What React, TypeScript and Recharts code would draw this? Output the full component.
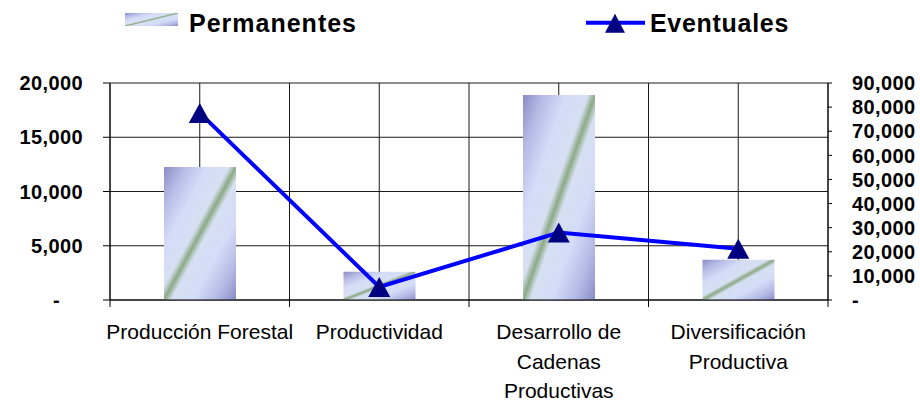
import React from 'react';
import {
  ComposedChart,
  Bar,
  Line,
  XAxis,
  YAxis,
  CartesianGrid,
} from 'recharts';

// categorías y series
const categories = [
  'Producción Forestal',
  'Productividad',
  'Desarrollo de\nCadenas\nProductivas',
  'Diversificación\nProductiva',
];
const permanentes = [12250, 2600, 18900, 3700];
const eventuales = [77600, 5400, 28000, 21300];

const leftTicks = [0, 5000, 10000, 15000, 20000];
const rightTicks = [0, 10000, 20000, 30000, 40000, 50000, 60000, 70000, 80000, 90000];
const xTicks = [0, 0.5, 1, 1.5, 2, 2.5, 3, 3.5, 4];

const FONT = '"Liberation Sans", Arial, sans-serif';
const NAVY = '#000080';
const BLUE = '#0000FF';

const data = categories.map((name, i) => ({
  pos: i + 0.5,
  name,
  permanentes: permanentes[i],
  eventuales: eventuales[i],
}));

const fmt = (v: number) => (v === 0 ? '-' : v.toLocaleString('en-US'));

function Triangle({ cx, cy, w = 22, h = 20 }: { cx: number; cy: number; w?: number; h?: number }) {
  return (
    <path
      d={`M${cx},${cy - h / 2} L${cx + w / 2},${cy + h / 2} L${cx - w / 2},${cy + h / 2} Z`}
      fill={NAVY}
    />
  );
}

// etiqueta del eje X: líneas en las fronteras, texto en los centros
function XTick(props: any) {
  const { x, y, payload } = props;
  const v = payload.value as number;
  if (Number.isInteger(v)) {
    return <line x1={x} x2={x} y1={y} y2={y + 7} stroke="#000" />;
  }
  const label = categories[Math.floor(v)] ?? '';
  const lines = label.split('\n');
  return (
    <text x={x} y={y + 39} textAnchor="middle" fontFamily={FONT} fontSize={21} fill="#000">
      {lines.map((l, i) => (
        <tspan key={i} x={x} dy={i === 0 ? 0 : 29.5}>
          {l}
        </tspan>
      ))}
    </text>
  );
}

function LeftTick(props: any) {
  const { x, y, payload } = props;
  const v = payload.value as number;
  return (
    <text
      x={v === 0 ? x - 23 : x}
      y={y}
      dy="0.36em"
      textAnchor="end"
      fontFamily={FONT}
      fontSize={20}
      fontWeight="bold"
      letterSpacing={0.4}
      fill="#000"
    >
      {fmt(v)}
    </text>
  );
}

function RightTick(props: any) {
  const { x, y, payload } = props;
  return (
    <text
      x={x}
      y={y}
      dy="0.36em"
      textAnchor="start"
      fontFamily={FONT}
      fontSize={20}
      fontWeight="bold"
      letterSpacing={0.4}
      fill="#000"
    >
      {fmt(payload.value)}
    </text>
  );
}

export default function App() {
  return (
    <div
      style={{
        position: 'absolute',
        left: 0,
        top: 0,
        width: 920,
        height: 403,
        background: '#fff',
        fontFamily: FONT,
      }}
    >
      {/* gradiente de las barras + leyenda */}
      <svg
        width={920}
        height={50}
        style={{ position: 'absolute', left: 0, top: 0, zIndex: 2 }}
      >
        <defs>
          <linearGradient id="barGrad" x1="0" y1="0" x2="1" y2="1">
            <stop offset="0" stopColor="#8A8CC6" />
            <stop offset="0.14" stopColor="#B4BAE4" />
            <stop offset="0.3" stopColor="#D4DCF8" />
            <stop offset="0.45" stopColor="#D6E0F2" />
            <stop offset="0.5" stopColor="#8CA986" />
            <stop offset="0.55" stopColor="#D6E0F2" />
            <stop offset="0.7" stopColor="#D4DCF8" />
            <stop offset="0.86" stopColor="#B4BAE4" />
            <stop offset="1" stopColor="#8A8CC6" />
          </linearGradient>
        </defs>
        <rect x={125} y={13} width={53} height={13} fill="url(#barGrad)" />
        <text x={189} y={31.5} fontFamily={FONT} fontSize={25} fontWeight="bold" letterSpacing={1}>
          Permanentes
        </text>
        <line x1={586} x2={645} y1={22.7} y2={22.7} stroke={BLUE} strokeWidth={4} />
        <Triangle cx={615} cy={23.3} w={20} h={19} />
        <text x={650} y={31.5} fontFamily={FONT} fontSize={25} fontWeight="bold" letterSpacing={0.7}>
          Eventuales
        </text>
      </svg>

      <ComposedChart
        width={920}
        height={403}
        data={data}
        margin={{ top: 83, right: 0, bottom: 0, left: 0 }}
      >
        <CartesianGrid stroke="#1a1a1a" strokeWidth={1} horizontal vertical />
        <XAxis
          dataKey="pos"
          type="number"
          domain={[0, 4]}
          ticks={xTicks}
          interval={0}
          height={103}
          tickSize={0}
          tickMargin={0}
          tickLine={false}
          axisLine={{ stroke: '#000' }}
          tick={<XTick />}
        />
        <YAxis
          yAxisId={0}
          width={110}
          domain={[0, 20000]}
          ticks={leftTicks}
          interval={0}
          tickSize={7}
          tickMargin={20}
          tickLine={{ stroke: '#000' }}
          axisLine={{ stroke: '#000' }}
          tick={<LeftTick />}
        />
        <YAxis
          yAxisId="right"
          orientation="right"
          width={92}
          domain={[0, 90000]}
          ticks={rightTicks}
          interval={0}
          tickSize={4}
          tickMargin={20}
          tickLine={{ stroke: '#000' }}
          axisLine={{ stroke: '#000' }}
          tick={<RightTick />}
        />
        <Bar
          yAxisId={0}
          dataKey="permanentes"
          barSize={72}
          fill="url(#barGrad)"
          isAnimationActive={false}
        />
        <Line
          yAxisId="right"
          dataKey="eventuales"
          stroke={BLUE}
          strokeWidth={4}
          dot={(p: any) => <Triangle key={p.index} cx={p.cx} cy={p.cy} />}
          activeDot={false}
          isAnimationActive={false}
        />
      </ComposedChart>
    </div>
  );
}
